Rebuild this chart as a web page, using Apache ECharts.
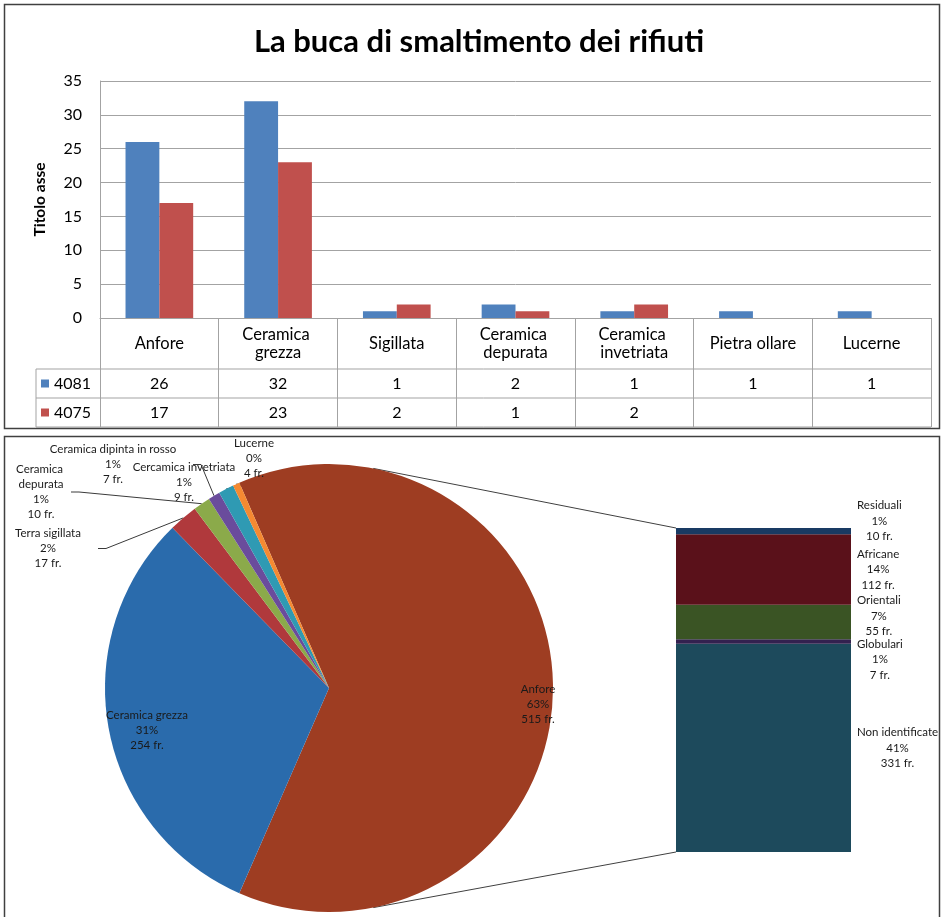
<!DOCTYPE html>
<html>
<head>
<meta charset="utf-8">
<script src="https://cdn.jsdelivr.net/npm/echarts@6/dist/echarts.min.js"></script>
<style>
  html, body { margin: 0; padding: 0; background: #fff; }
  #chart { width: 942px; height: 917px; }
</style>
</head>
<body>
<div id="chart"></div>
<script>
// ---- Upper chart: fragments per category in the two strata ----
const categories = ['Anfore', 'Ceramica grezza', 'Sigillata', 'Ceramica depurata', 'Ceramica invetriata', 'Pietra ollare', 'Lucerne'];
const s4081 = [26, 32, 1, 2, 1, 1, 1];
const s4075 = [17, 23, 2, 1, 2, null, null];
const seriesNames = ['4081', '4075'];
const yMin = 0, yMax = 35, yStep = 5;

// ---- Lower chart: pie of classes, amphorae broken down in the bar ----
const pieNames = ['Anfore', 'Ceramica grezza', 'Terra sigillata', 'Ceramica depurata', 'Ceramica dipinta in rosso', 'Cercamica invetriata', 'Lucerne'];
const pieFragments = [515, 254, 17, 10, 7, 9, 4];
// stacked from the bottom up
const anforeNames = ['Non identificate', 'Globulari', 'Orientali', 'Africane', 'Residuali'];
const anforeFragments = [331, 7, 55, 112, 10];

// ---- styling ----
const FONT = 'Lato, "Noto Sans", sans-serif';
const GRID_COLOR = '#a3a3a3';
const barColors = ['#4F81BD', '#C0504D'];
const pieColors = ['#9E3D22', '#2A6BAC', '#B0393C', '#8BAA4A', '#6A4C9C', '#2F9AB3', '#F58A32'];
const segColors = ['#1D4A5C', '#33214F', '#3A5424', '#5A111A', '#193A63'];

// label anchors for the pie (centre x, top y)
const pieLabelAt = [[538, 682], [147, 708], [48, 526], [41, 462], [113, 442], [184, 460], [254, 436]];
const pieLabelWidth = [120, 120, 100, 60, 160, 140, 60];
// vertical nudges of the bar labels, same order as anforeNames
const segLabelShift = [0, 18, -6, 0, -10];

const pieCenter = [329, 688];
const pieRadius = 224;
const barBox = { left: 676, top: 528, width: 175, height: 324 };

const pieTotal = pieFragments.reduce((a, b) => a + b, 0);
const anforeTotal = anforeFragments.reduce((a, b) => a + b, 0);
const pct = v => Math.round(v / pieTotal * 100) + '%';

// the "other" slice (Anfore) faces the bar, centred on the horizontal
const startAngle = 360 * pieFragments[0] / pieTotal / 2;

// series lines joining the pie to the bar
const joinAngle = 78.6 * Math.PI / 180;
const joinTop = [pieCenter[0] + pieRadius * Math.cos(joinAngle), pieCenter[1] - pieRadius * Math.sin(joinAngle)];
const joinBottom = [joinTop[0], pieCenter[1] + pieRadius * Math.sin(joinAngle)];

const chart = echarts.init(document.getElementById('chart'), null, { renderer: 'canvas' });

const hLine = (x1, x2, y, color, w) => ({ type: 'line', shape: { x1, y1: y, x2, y2: y }, style: { stroke: color, lineWidth: w || 1 }, silent: true });

const segmentSeries = anforeNames.map((name, i) => ({
  name,
  type: 'bar',
  xAxisIndex: 3,
  yAxisIndex: 1,
  stack: 'anfore',
  barWidth: '100%',
  data: [anforeFragments[i]],
  itemStyle: { color: segColors[i] },
  label: {
    show: true,
    position: 'right',
    distance: 6,
    fontSize: 11.5,
    lineHeight: 15.5,
    color: '#1a1a1a',
    fontFamily: FONT,
    formatter: p => `${p.seriesName}\n${pct(p.value)}\n${p.value} fr.`
  },
  labelLayout: p => ({
    x: p.labelRect.x + p.labelRect.width / 2,
    y: p.rect.y + p.rect.height / 2 + segLabelShift[i],
    align: 'center',
    verticalAlign: 'middle'
  }),
  silent: true
}));

const option = {
  animation: false,
  textStyle: { fontFamily: FONT },
  title: {
    text: 'La buca di smaltimento dei rifiuti',
    left: 474,
    textAlign: 'center',
    top: 21,
    textStyle: { fontSize: 31, fontWeight: 'bold', color: '#000', fontFamily: FONT }
  },
  legend: {
    data: seriesNames,
    orient: 'vertical',
    left: 41,
    top: 373.5,
    padding: 0,
    itemWidth: 8,
    itemHeight: 8,
    itemGap: 9,
    icon: 'rect',
    selectedMode: false,
    textStyle: { fontSize: 16, lineHeight: 20, color: '#000' }
  },
  grid: [
    { left: 100, right: 11, top: 81, height: 237 },
    barBox
  ],
  xAxis: [
    {
      gridIndex: 0, type: 'category', data: categories,
      axisLine: { lineStyle: { color: GRID_COLOR } },
      axisTick: { show: true, length: 109, interval: 0, lineStyle: { color: GRID_COLOR } },
      axisLabel: {
        interval: 0, fontSize: 16.5, color: '#000', margin: 25.5, verticalAlign: 'middle',
        width: 108, overflow: 'break', lineHeight: 18
      }
    },
    {
      gridIndex: 0, type: 'category', data: categories, position: 'bottom', offset: 51,
      axisLine: { show: false }, axisTick: { show: false },
      axisLabel: { interval: 0, fontSize: 16, color: '#000', margin: 14.5, verticalAlign: 'middle',
        formatter: (v, i) => (s4081[i] == null ? '' : String(s4081[i])) }
    },
    {
      gridIndex: 0, type: 'category', data: categories, position: 'bottom', offset: 80,
      axisLine: { show: false }, axisTick: { show: false },
      axisLabel: { interval: 0, fontSize: 16, color: '#000', margin: 14.5, verticalAlign: 'middle',
        formatter: (v, i) => (s4075[i] == null ? '' : String(s4075[i])) }
    },
    { gridIndex: 1, type: 'category', data: ['Anfore'], show: false }
  ],
  yAxis: [
    {
      gridIndex: 0, type: 'value', min: yMin, max: yMax, interval: yStep,
      name: 'Titolo asse', nameLocation: 'middle', nameRotate: 90, nameGap: 52,
      nameTextStyle: { fontSize: 15.5, fontWeight: 'bold', color: '#000' },
      axisLine: { show: true, lineStyle: { color: GRID_COLOR } },
      axisTick: { show: false },
      axisLabel: { fontSize: 16, color: '#000', margin: 18 },
      splitLine: { lineStyle: { color: GRID_COLOR } }
    },
    { gridIndex: 1, type: 'value', min: 0, max: anforeTotal, show: false }
  ],
  series: [
    {
      name: seriesNames[0], type: 'bar', xAxisIndex: 0, yAxisIndex: 0,
      data: s4081, itemStyle: { color: barColors[0] },
      barGap: '0%', barCategoryGap: '43%', silent: true
    },
    {
      name: seriesNames[1], type: 'bar', xAxisIndex: 0, yAxisIndex: 0,
      data: s4075, itemStyle: { color: barColors[1] },
      barGap: '0%', barCategoryGap: '43%', silent: true
    },
    {
      name: 'Classi', type: 'pie',
      center: pieCenter, radius: pieRadius,
      startAngle, clockwise: true,
      avoidLabelOverlap: false,
      silent: true,
      data: pieNames.map((name, i) => ({
        name, value: pieFragments[i],
        itemStyle: { color: pieColors[i] },
        label: { width: pieLabelWidth[i], overflow: 'break' },
        labelLine: { show: i > 1 }
      })),
      label: {
        show: true,
        position: 'outside',
        fontSize: 11.5,
        lineHeight: 15,
        color: '#1a1a1a',
        fontFamily: FONT,
        formatter: p => `${p.name}\n${pct(p.value)}\n${p.value} fr.`
      },
      labelLine: { show: true, length: 8, length2: 8, lineStyle: { color: '#3a3a3a', width: 1 } },
      labelLayout: p => ({
        x: pieLabelAt[p.dataIndex][0],
        y: pieLabelAt[p.dataIndex][1],
        align: 'center',
        verticalAlign: 'top'
      })
    },
    ...segmentSeries
  ],
  graphic: [
    // panel frames
    { type: 'rect', shape: { x: 4.5, y: 4.5, width: 935, height: 424 }, style: { fill: 'none', stroke: '#404040', lineWidth: 1.5 }, silent: true, z: 10 },
    { type: 'rect', shape: { x: 4.5, y: 436.5, width: 935, height: 500 }, style: { fill: 'none', stroke: '#404040', lineWidth: 1.5 }, silent: true, z: 10 },
    // data table rules
    hLine(36, 931, 369, GRID_COLOR),
    hLine(36, 931, 398, GRID_COLOR),
    hLine(36, 931, 427, GRID_COLOR),
    { type: 'line', shape: { x1: 36, y1: 369, x2: 36, y2: 427 }, style: { stroke: GRID_COLOR, lineWidth: 1 }, silent: true },
    // series lines pie -> bar
    { type: 'line', shape: { x1: joinTop[0], y1: joinTop[1], x2: barBox.left, y2: barBox.top }, style: { stroke: '#404040', lineWidth: 1 }, silent: true },
    { type: 'line', shape: { x1: joinBottom[0], y1: joinBottom[1], x2: barBox.left, y2: barBox.top + barBox.height }, style: { stroke: '#404040', lineWidth: 1 }, silent: true }
  ]
};

chart.setOption(option);
</script>
</body>
</html>
